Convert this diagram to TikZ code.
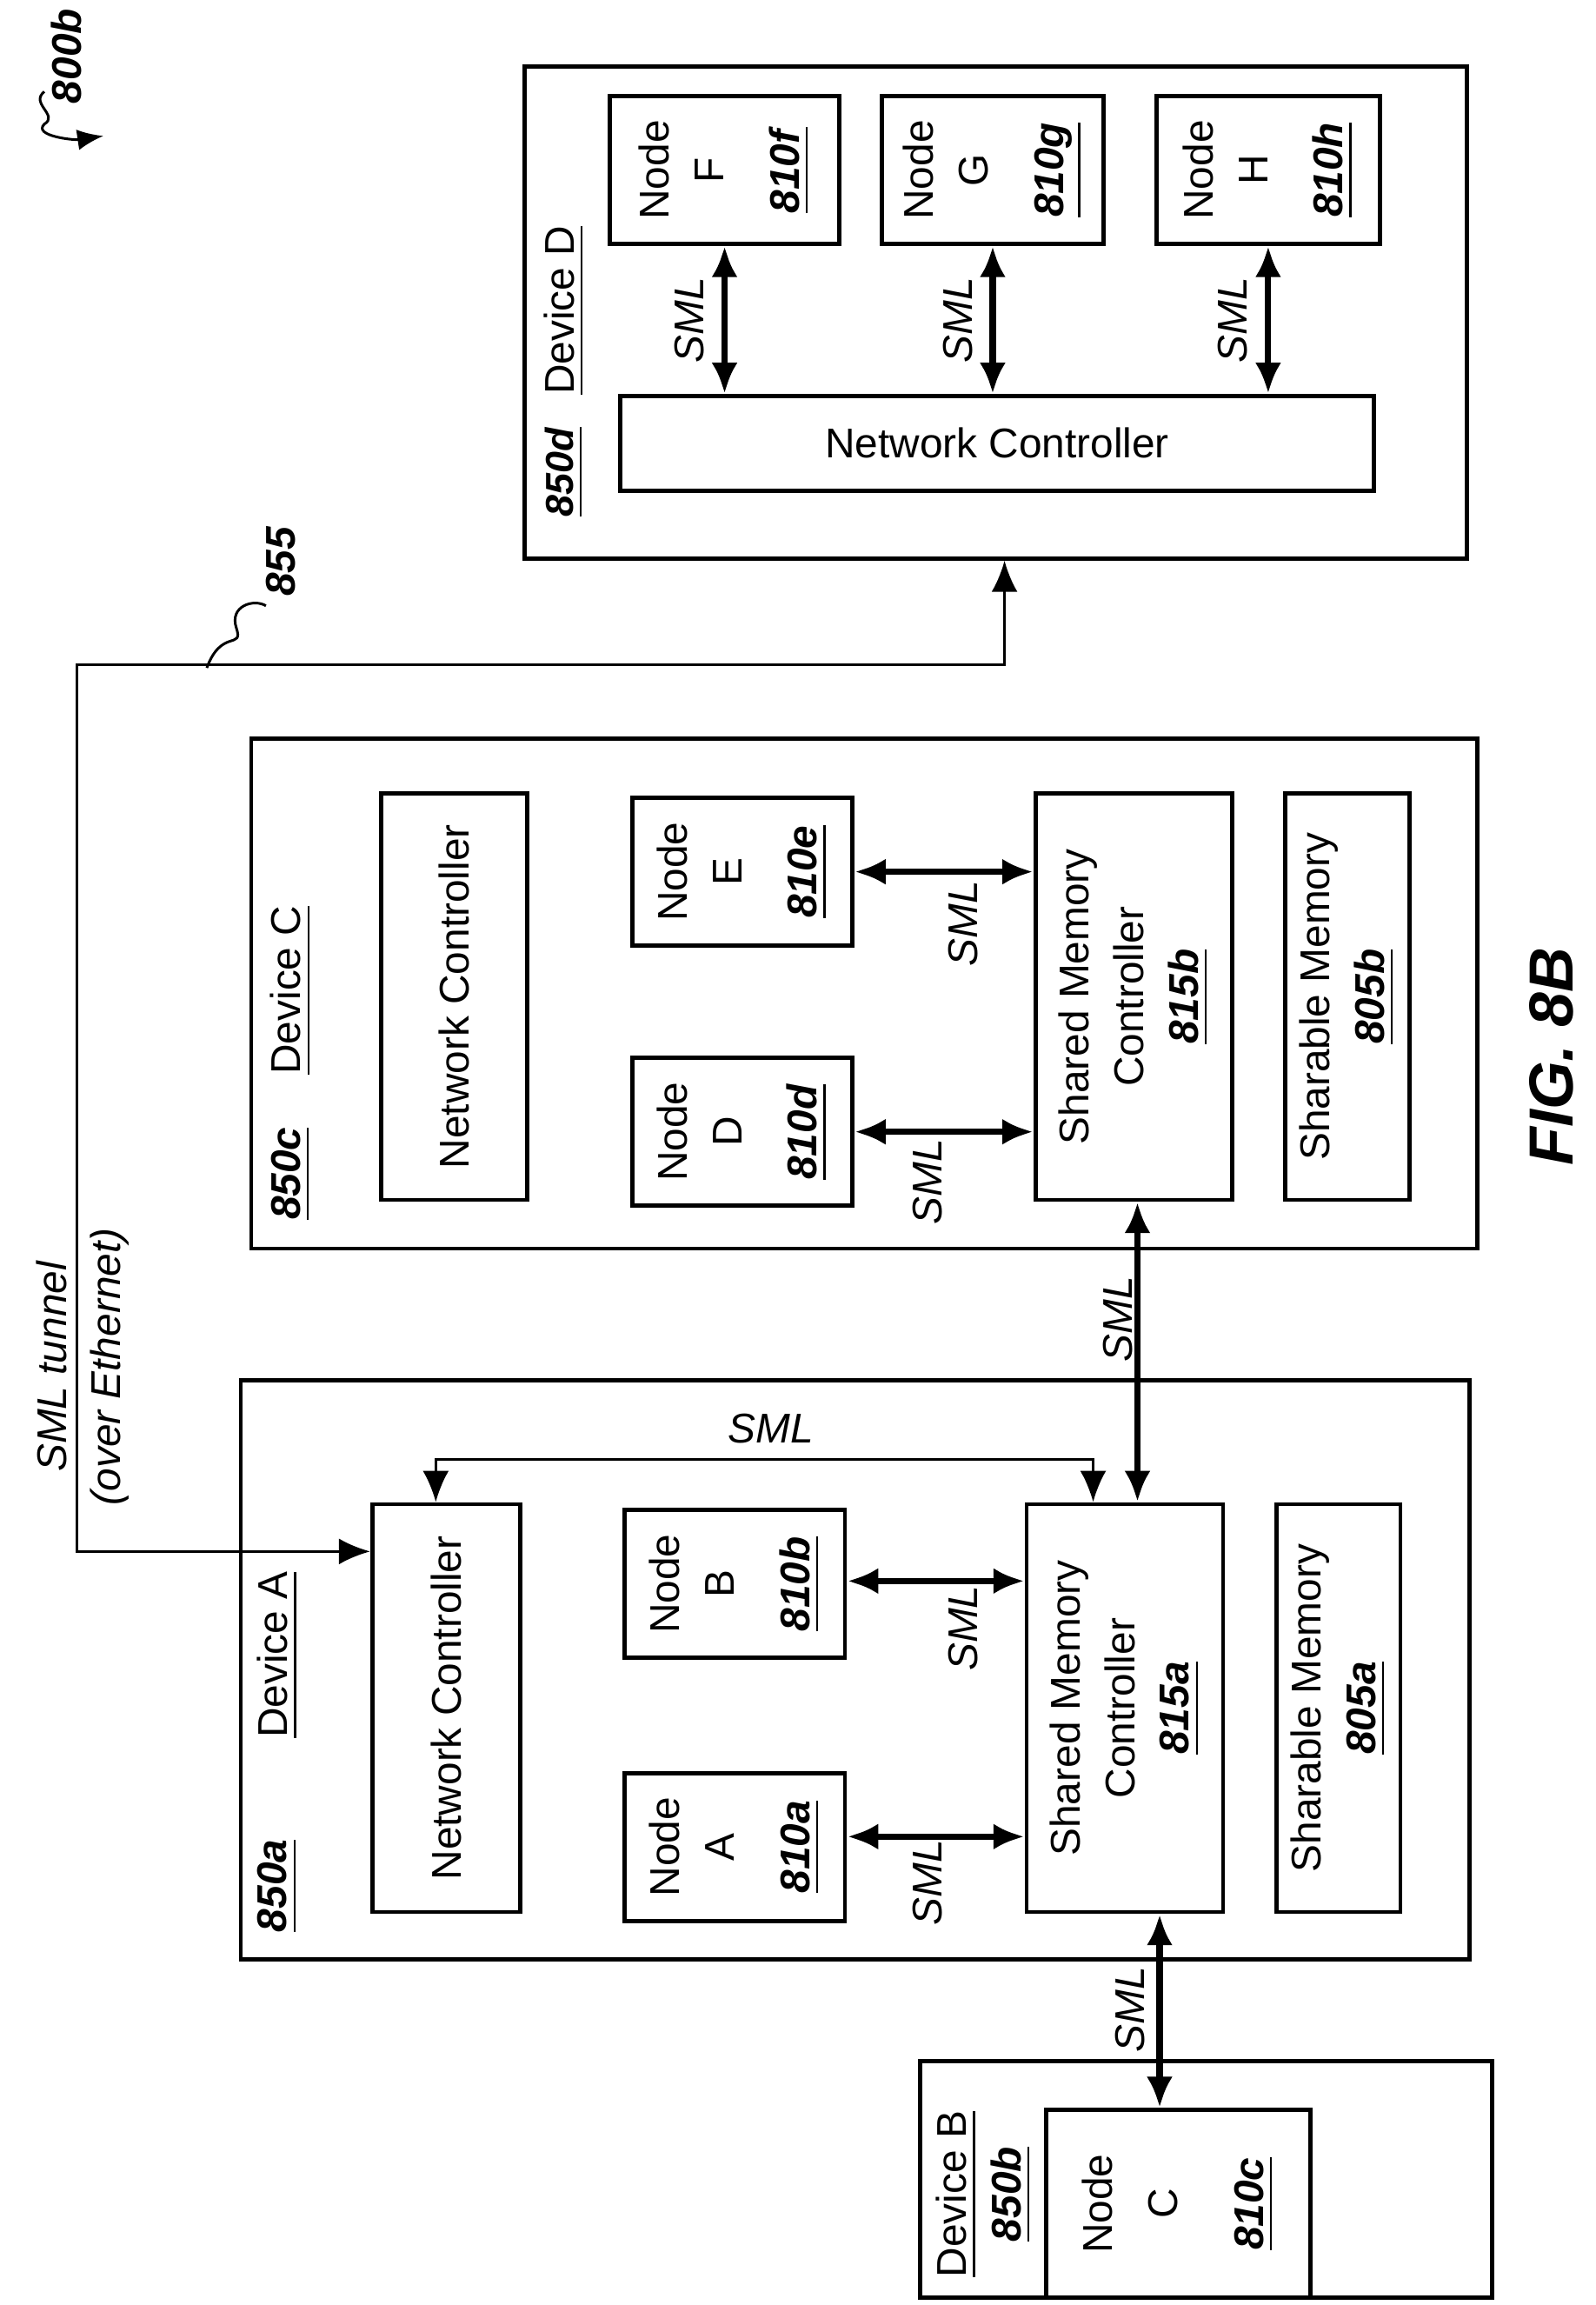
\documentclass[tikz,border=0pt]{standalone}
\usepackage{fontspec}
\setmainfont{Liberation Sans}
\usetikzlibrary{arrows.meta,fit}
\newcommand{\refno}[1]{\underline{\textbf{\textit{#1}}}}
\newcommand{\lbl}{\fontsize{8}{10.5}\selectfont}

\begin{document}
\begin{tikzpicture}[
    x=0.01cm, y=-0.01cm,
    box/.style={draw, line width=0.8pt, inner sep=0pt},
    vtxt/.style={rotate=90, align=center, font=\lbl},
    sml/.style={rotate=90, font=\lbl\itshape},
    link/.style={line width=1.2pt, {Latex[length=6pt,width=5pt]}-{Latex[length=6pt,width=5pt]}},
    thinlink/.style={line width=0.5pt, {Latex[length=6pt,width=5pt]}-{Latex[length=6pt,width=5pt]}}
]
\useasboundingbox (0,0) rectangle (1080,1560);

% DEVICE D
\node[box, fit={(355,45) (993,378)}] (devD) {};
\node[vtxt] at (382,210) {\underline{Device D}};
\node[vtxt, anchor=west, font=\fontsize{7.5}{9}\selectfont] at (382,362) {\refno{850d}};
\node[box, fit={(413,65) (568,165)}] (nodeF) {};
\node[box, fit={(597,65) (747,165)}] (nodeG) {};
\node[box, fit={(783,65) (934,165)}] (nodeH) {};
\node[vtxt] at (nodeF) {Node\\F\\[4pt]\refno{810f}};
\node[vtxt] at (nodeG) {Node\\G\\[4pt]\refno{810g}};
\node[vtxt] at (nodeH) {Node\\H\\[4pt]\refno{810h}};
\node[box, fit={(420,268) (930,332)}, font=\lbl] (ncD) {};
\node[font=\lbl] at (ncD) {Network Controller};
\foreach \n in {nodeF,nodeG,nodeH}
    \draw[link] (\n.south) -- (ncD.north -| \n.south)
        node[midway, sml, above] {SML};

% DEVICE C
\node[box, fit={(170,500) (1000,845)}] (devC) {};
\node[vtxt] at (197,670) {\underline{Device C}};
\node[vtxt, anchor=west] at (197,838) {\refno{850c}};
\node[box, fit={(258,537) (357,812)}] (ncC) {};
\node[vtxt] at (ncC) {Network Controller};
\node[box, fit={(428,540) (577,640)}] (nodeE) {};
\node[box, fit={(428,716) (577,816)}] (nodeD) {};
\node[vtxt] at (nodeE) {Node\\E\\[4pt]\refno{810e}};
\node[vtxt] at (nodeD) {Node\\D\\[4pt]\refno{810d}};
\node[box, fit={(701,537) (834,812)}] (smcB) {};
\node[vtxt] at (smcB) {Shared Memory\\Controller\\\refno{815b}};
\node[box, fit={(870,537) (954,812)}] (memB) {};
\node[vtxt] at (memB) {Sharable Memory\\\refno{805b}};
\draw[link] (nodeE.east) -- (smcB.west |- nodeE.east);
\draw[link] (nodeD.east) -- (smcB.west |- nodeD.east);
\node[sml] at (652,625) {SML};
\node[sml] at (628,800) {SML};

% DEVICE A
\node[box, fit={(163,934) (995,1326)}] (devA) {};
\node[vtxt] at (188,1120) {\underline{Device A}};
\node[vtxt, anchor=west] at (188,1320) {\refno{850a}};
\node[box, fit={(252,1018) (352,1294)}] (ncA) {};
\node[vtxt] at (ncA) {Network Controller};
\node[box, fit={(423,1022) (572,1122)}] (nodeB) {};
\node[box, fit={(423,1200) (572,1300)}] (nodeA) {};
\node[vtxt] at (nodeB) {Node\\B\\[4pt]\refno{810b}};
\node[vtxt] at (nodeA) {Node\\A\\[4pt]\refno{810a}};
\node[box, fit={(695,1018) (828,1294)}] (smcA) {};
\node[vtxt] at (smcA) {Shared Memory\\Controller\\\refno{815a}};
\node[box, fit={(864,1018) (948,1294)}] (memA) {};
\node[vtxt] at (memA) {Sharable Memory\\\refno{805a}};
\coordinate (ab1) at (600,1070);
\coordinate (ab2) at (600,1243);
\draw[link] (nodeB.east |- ab1) -- (smcA.west |- ab1);
\draw[link] (nodeA.east |- ab2) -- (smcA.west |- ab2);
\node[sml] at (652,1102) {SML};
\node[sml] at (628,1274) {SML};

% internal SML
\coordinate (smlL) at (295,988);
\coordinate (smlR) at (740,988);
\draw[thinlink] (ncA.north -| smlL) -- (smlL) -- (smlR) -- (smcA.north -| smlR);
\node[font=\lbl\itshape] at (522,967) {SML};

% C <-> A
\coordinate (ca) at (770,900);
\draw[link] (smcB.south -| ca) -- (smcA.north -| ca);
\node[sml] at (757,893) {SML};

% DEVICE B
\node[box, fit={(623,1395) (1010,1555)}] (devB) {};
\node[vtxt] at (666,1485) {\underline{Device B}\\\refno{850b}};
\node[box, fit={(708,1428) (887,1555)}] (nodeC) {};
\node[vtxt] at (nodeC) {Node\\[2pt]C\\[6pt]\refno{810c}};
\coordinate (ab) at (785,1360);
\draw[link] (smcA.south -| ab) -- (nodeC.north -| ab);
\node[sml] at (765,1360) {SML};

% TUNNEL
\coordinate (tunA) at (52,1050);
\coordinate (tunB) at (52,450);
\coordinate (tunC) at (680,450);
\draw[thinlink] (ncA.west |- tunA) -- (tunA) -- (tunB) -- (tunC) -- (devD.south -| tunC);
\node[vtxt, font=\lbl\itshape] at (56,925) {SML tunnel\\(over Ethernet)};
\draw[line width=0.5pt] (140,452) .. controls (150,425) and (165,440) .. (160,425)
    .. controls (155,410) and (172,405) .. (180,410);
\node[vtxt, font=\lbl\bfseries\itshape] at (190,380) {855};

% FIGURE LABELS
\node[vtxt, font=\lbl\bfseries\itshape] at (45,38) {800b};
\draw[line width=0.5pt, -{Latex[length=5pt,width=4pt]}] (30,62) .. controls (20,70) and (40,78) .. (30,84)
    .. controls (22,92) and (50,95) .. (70,92);
\node[rotate=90, font=\fontsize{12}{14}\selectfont\bfseries\itshape] at (1050,715) {FIG. 8B};

\end{tikzpicture}
\end{document}
